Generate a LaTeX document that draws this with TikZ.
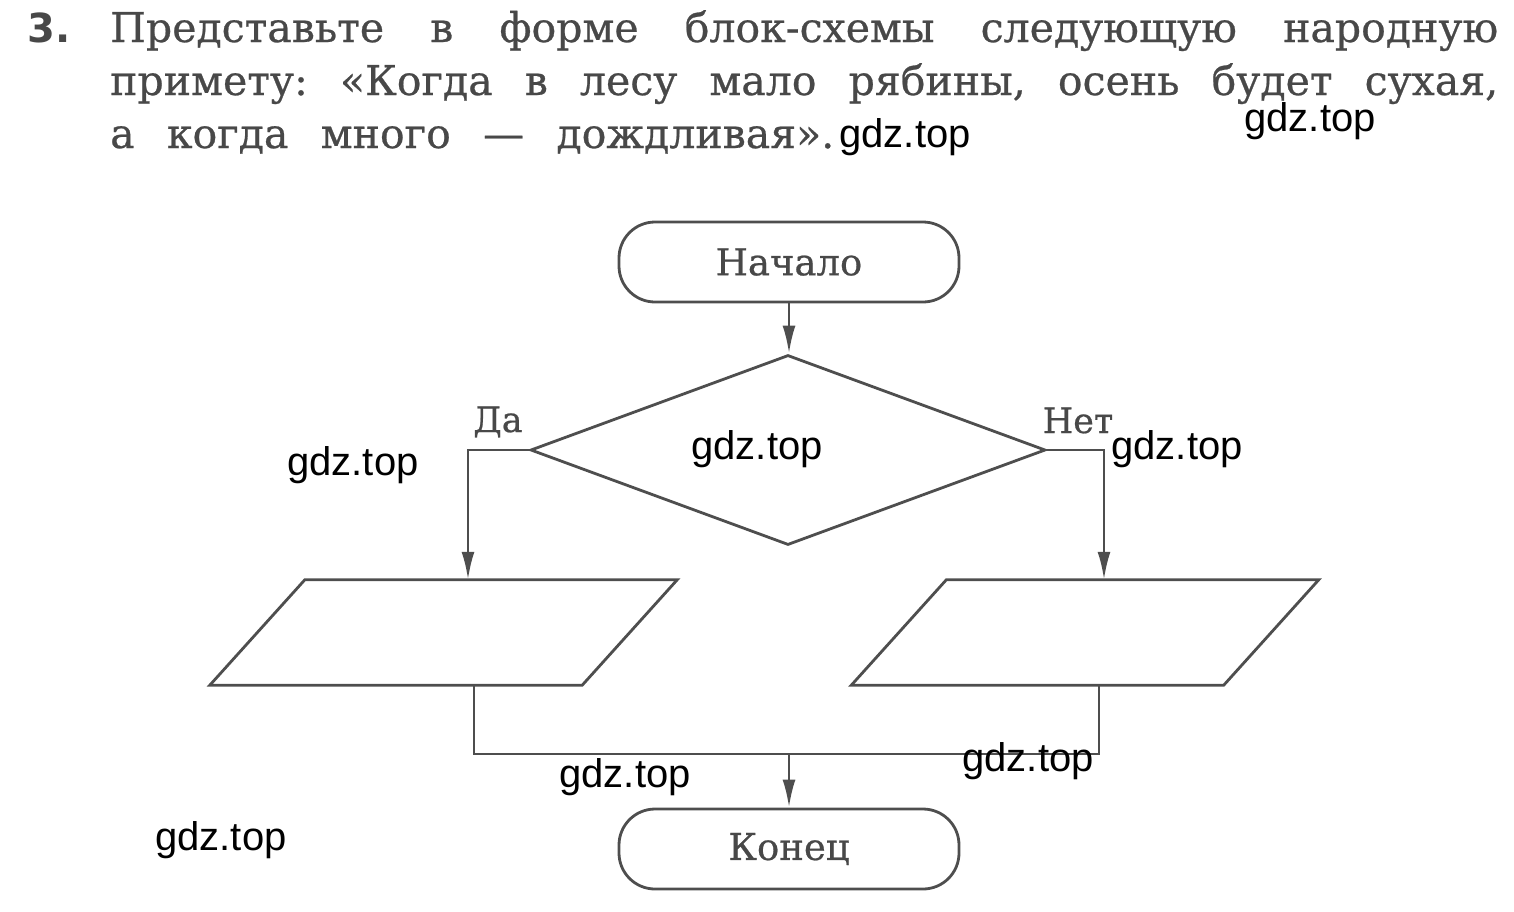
\documentclass[tikz,border=0pt]{standalone}
\usepackage{fontspec}
\setmainfont[FakeBold=0.6]{DejaVu Serif}
\newfontfamily\wmfont{Liberation Sans}
\newfontfamily\numfont{DejaVu Sans}
\usetikzlibrary{shapes.geometric,arrows.meta}
\definecolor{ink}{RGB}{78,78,78}
\definecolor{txt}{RGB}{72,72,72}
\frenchspacing
\begin{document}
\begin{tikzpicture}[x=1pt,y=-1pt,
  line/.style={draw=ink,line width=2.8pt},
  arr/.style={line,-{Latex[length=28pt,width=13pt]}},
  term/.style={line,rounded corners=36pt,minimum width=340pt,minimum height=80pt,inner sep=0pt,
    font=\fontsize{37}{42}\selectfont,text=txt},
  cond/.style={line,diamond,aspect=2.71,minimum width=515pt,minimum height=190pt,inner sep=0pt},
  iobox/.style={draw=none,minimum width=467pt,minimum height=105pt,inner sep=0pt},
  head/.style={anchor=base west,inner sep=0pt,text=txt,font=\fontsize{41}{48}\selectfont},
  lab/.style={anchor=base,inner sep=0pt,text=txt,font=\fontsize{35}{40}\selectfont},
  wm/.style={inner sep=0pt,text=black,font=\wmfont\fontsize{40}{46}\selectfont}]
\useasboundingbox (0,0) rectangle (1514,911);
% header
\node[anchor=base west,inner sep=0pt,text=txt,font=\numfont\bfseries\fontsize{40}{44}\selectfont] (num) at (27,42) {3.};
\node[head] (l1) at (110,42) {\makebox[1388pt][s]{Представьте в форме блок-схемы следующую народную}};
\node[head] (l2) at (110,95) {\makebox[1388pt][s]{примету: «Когда в лесу мало рябины, осень будет сухая,}};
\node[head] (l3) at (110,148) {\makebox[724pt][s]{а когда много — дождливая».}};
% flowchart
\node[term] (start) at (789,262) {Начало};
\node[cond] (cond) at (788,450) {};
\node[iobox] (lpar) at (443.5,632.5) {};
\node[iobox] (rpar) at (1085,632.5) {};
\draw[line] ([xshift=95pt]lpar.north west) -- (lpar.north east) -- ([xshift=-95pt]lpar.south east) -- (lpar.south west) -- cycle;
\draw[line] ([xshift=95pt]rpar.north west) -- (rpar.north east) -- ([xshift=-95pt]rpar.south east) -- (rpar.south west) -- cycle;
\node[term] (end) at (789,849) {Конец};
\coordinate (merge) at (789,754);
\node[lab] (yes) at (498,432) {Да};
\node[lab] (no) at (1078,433) {Нет};
\draw[arr] (start.south) -- (start.south |- cond.north);
\draw[arr] (cond.west) -| ([xshift=24.5pt]lpar.north);
\draw[arr] (cond.east) -| ([xshift=19pt]rpar.north);
\draw[line] ([xshift=30.5pt]lpar.south) |- (merge);
\draw[line] ([xshift=14pt]rpar.south) |- (merge);
\draw[arr] (merge) -- (end.north);
% watermarks
\node[wm] (w1) at (905,137) {gdz.top};
\node[wm] (w2) at (1310,121) {gdz.top};
\node[wm] (w3) at (353,465) {gdz.top};
\node[wm] (w4) at (757,449) {gdz.top};
\node[wm] (w5) at (1177,449) {gdz.top};
\node[wm] (w6) at (625,777) {gdz.top};
\node[wm] (w7) at (1028,761) {gdz.top};
\node[wm] (w8) at (221,840) {gdz.top};
\end{tikzpicture}
\end{document}
